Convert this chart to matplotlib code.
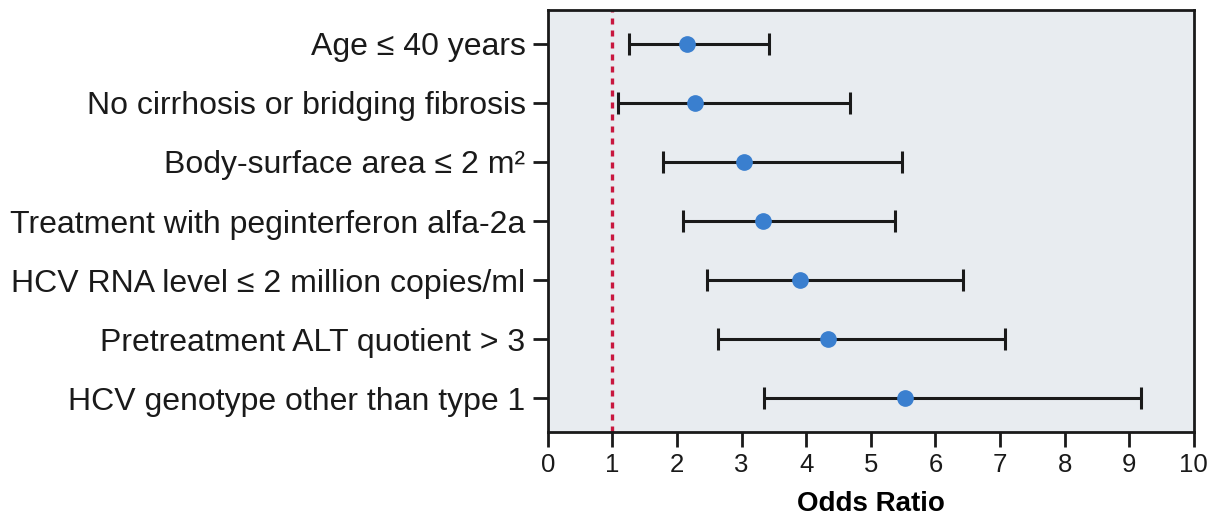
import matplotlib.pyplot as plt
import numpy as np

labels = [
    'Age \u2264 40 years',
    'No cirrhosis or bridging fibrosis',
    'Body-surface area \u2264 2 m\u00b2',
    'Treatment with peginterferon alfa-2a',
    'HCV RNA level \u2264 2 million copies/ml',
    'Pretreatment ALT quotient > 3',
    'HCV genotype other than type 1',
]
odds = [2.16, 2.28, 3.04, 3.33, 3.91, 4.33, 5.53]
ci_low = [1.26, 1.08, 1.78, 2.09, 2.47, 2.64, 3.34]
ci_high = [3.42, 4.67, 5.48, 5.37, 6.43, 7.08, 9.18]

plt.rcParams['font.family'] = ['Liberation Sans', 'DejaVu Sans']

fig = plt.figure(figsize=(12.12, 5.17), dpi=100)
ax = fig.add_axes([0.452, 0.164, 0.533, 0.817])
ax.set_facecolor('#e8ecf0')

y = np.arange(len(labels))[::-1] + 1
odds = np.array(odds)
err = [odds - np.array(ci_low), np.array(ci_high) - odds]

ax.axvline(1, color='#c8173f', lw=2.4, linestyle=(0, (1.8, 1.8)), zorder=1)
ax.errorbar(odds, y, xerr=err, fmt='none', ecolor='#1a1a1a', elinewidth=2.2,
            capsize=8, capthick=2.2, zorder=2)
ax.plot(odds, y, 'o', color='#3a7fcf', markersize=11, zorder=3)

ax.set_xlim(0, 10)
ax.set_ylim(0.43, 7.57)
ax.set_xticks(range(11))
ax.set_yticks(y)
ax.set_yticklabels(labels, fontsize=23)
ax.tick_params(axis='both', length=11, width=2, color='#1a1a1a',
               labelcolor='#1a1a1a')
ax.tick_params(axis='x', labelsize=18.5, pad=4)
ax.tick_params(axis='y', pad=5)
for s in ax.spines.values():
    s.set_linewidth(2)
    s.set_color('#1a1a1a')

ax.set_xlabel('Odds Ratio', fontsize=20, fontweight='bold', labelpad=10)

fig.savefig('out.png', dpi=100)
